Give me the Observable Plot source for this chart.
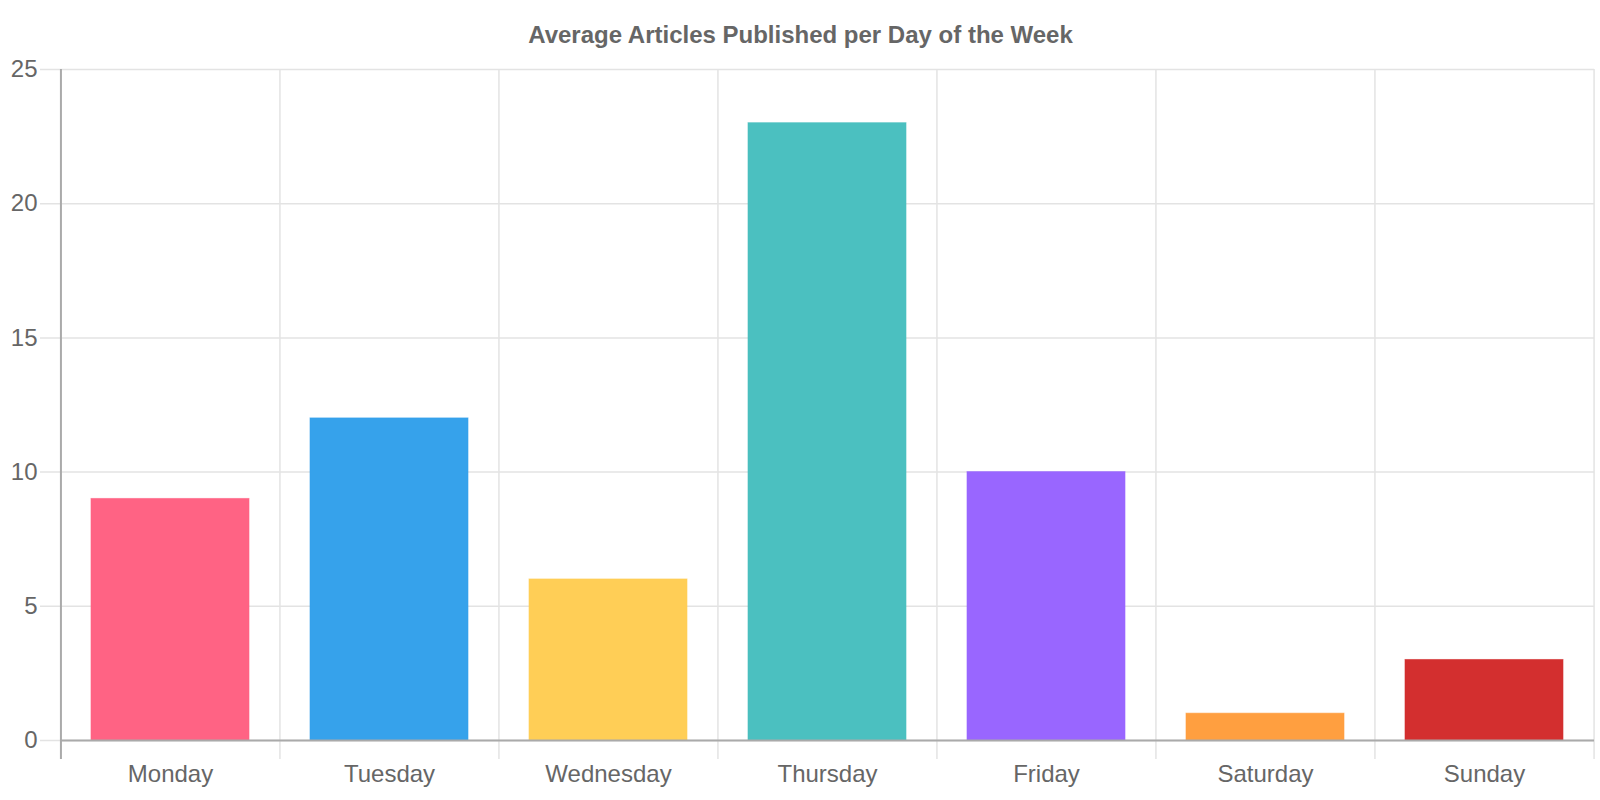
<!DOCTYPE html>
<html>
<head>
<meta charset="utf-8">
<script src="https://cdn.jsdelivr.net/npm/d3@7"></script>
<script src="https://cdn.jsdelivr.net/npm/@observablehq/plot@0.6"></script>
<style>
  html, body { margin: 0; padding: 0; background: #fff; }
  #chart { width: 1600px; height: 800px; }
</style>
</head>
<body>
<div id="chart"></div>
<script>
const titleText = "Average Articles Published per Day of the Week";
const days = ["Monday", "Tuesday", "Wednesday", "Thursday", "Friday", "Saturday", "Sunday"];
const articles = [9, 12, 6, 23, 10, 1, 3];
const colors = ["#FF6384", "#36A2EB", "#FFCE56", "#4BC0C0", "#9966FF", "#FF9F40", "#D32F2F"];
const yTicks = [0, 5, 10, 15, 20, 25];

const data = days.map((d, i) => ({day: d, value: articles[i]}));

const W = 1600, H = 800;
const mL = 60, mR = 6, mT = 69, mB = 60;
const step = (W - mL - mR) / days.length;
const titleDx = W / 2 - (mL + (W - mL - mR) / 2);
const font = "Liberation Sans, Arial, Helvetica, sans-serif";

const chart = Plot.plot({
  width: W,
  height: H,
  marginLeft: mL,
  marginRight: mR,
  marginTop: mT,
  marginBottom: mB,
  style: {fontFamily: font, fontSize: "24px", color: "#666", background: "#fff"},
  x: {domain: days, paddingInner: 0.28, paddingOuter: 0.14, label: null, tickSize: 0, tickPadding: 24},
  y: {domain: [0, 25], ticks: yTicks, label: null, tickSize: 0, tickPadding: 23},
  color: {domain: days, range: colors},
  marks: [
    Plot.ruleY(yTicks, {stroke: "#e3e3e3", strokeWidth: 1.5, insetLeft: -20}),
    Plot.ruleX(days, {x: d => d, dx: -step / 2, stroke: "#e3e3e3", strokeWidth: 1.5, insetBottom: -19}),
    Plot.ruleX([days[days.length - 1]], {x: d => d, dx: step / 2, stroke: "#e3e3e3", strokeWidth: 1.5, insetBottom: -19}),
    Plot.barY(data, {x: "day", y: "value", fill: "day", stroke: "day", strokeOpacity: 0.6, strokeWidth: 1}),
    Plot.ruleY([0], {stroke: "#aaa", strokeWidth: 2}),
    Plot.ruleX([days[0]], {x: d => d, dx: -step / 2, stroke: "#aaa", strokeWidth: 2, insetBottom: -19}),
    Plot.text([titleText], {frameAnchor: "top", dx: titleDx, dy: -44, fontWeight: "bold", fontSize: 24, fill: "#666", text: d => d})
  ]
});
document.getElementById("chart").appendChild(chart);
</script>
</body>
</html>
